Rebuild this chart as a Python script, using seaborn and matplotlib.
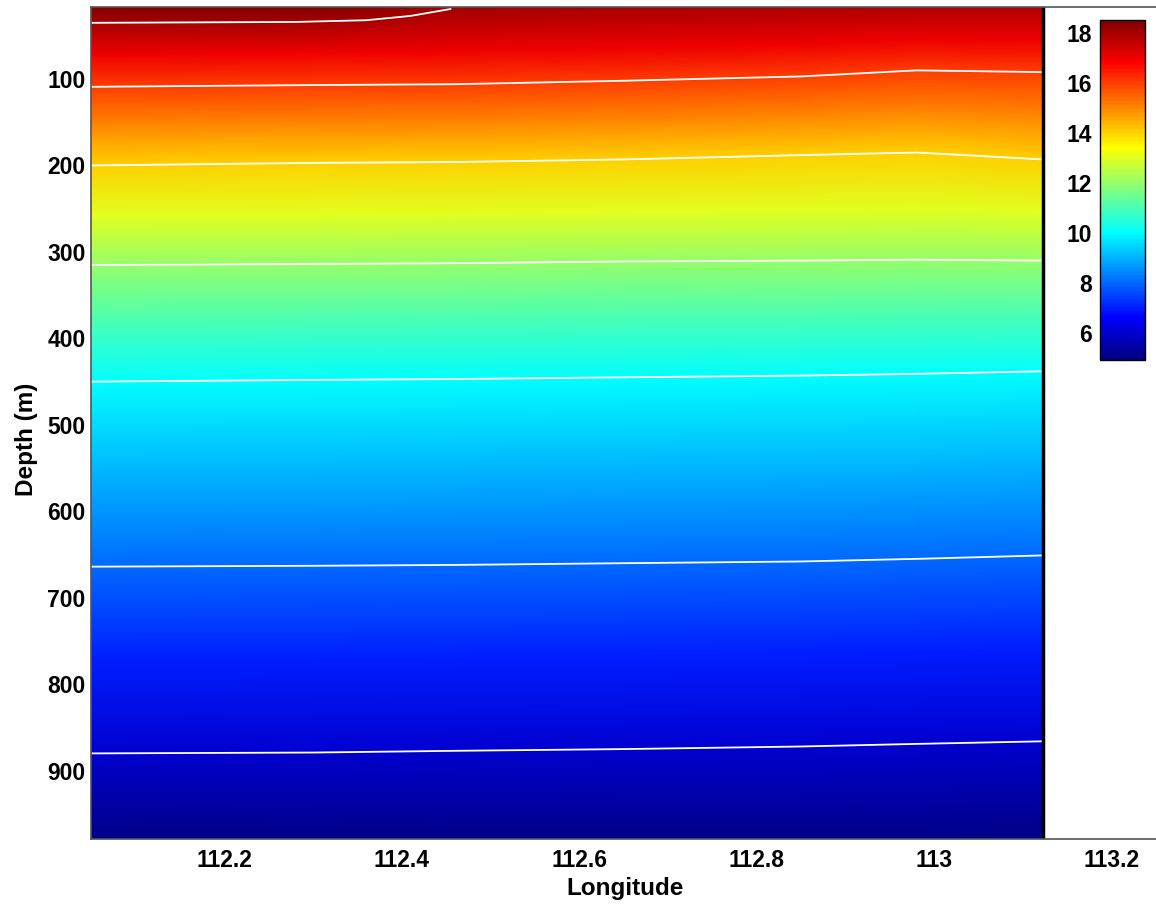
import matplotlib
matplotlib.use("Agg")
import matplotlib.pyplot as plt
from matplotlib.colors import LinearSegmentedColormap
import numpy as np
import pandas as pd
import seaborn as sns

sns.set_theme(style="white")
plt.rcParams["font.family"] = ["Liberation Sans", "DejaVu Sans"]
plt.rcParams["font.weight"] = "bold"
plt.rcParams["text.color"] = "black"
plt.rcParams["xtick.color"] = "black"
plt.rcParams["ytick.color"] = "black"
plt.rcParams["axes.labelcolor"] = "black"

# station longitudes along the section
lon = [112.05, 112.30, 112.46, 112.65, 112.85, 112.98, 113.122]

# depth (m) of each isotherm at every station
iso17 = [72, 70, 68, 65, 60, 55, 56]
iso16 = [109, 107, 106, 102, 97, 90, 92]
iso15 = [152, 150, 149, 146, 141, 136, 141]
iso14 = [200, 197, 196, 193, 188, 185, 193]
iso13 = [258, 256, 255, 253, 251, 249, 252]
iso12 = [315, 314, 313, 311, 310, 309, 310]
iso11 = [382, 380, 379, 377, 376, 374, 373]
iso10 = [450, 448, 447, 445, 443, 441, 438]
iso9 = [555, 554, 553, 551, 549, 547, 543]
iso8 = [664, 663, 662, 660, 658, 655, 651]
iso7 = [772, 771, 770, 768, 765, 762, 758]
iso6 = [880, 879, 877, 875, 872, 869, 866]

# 18 degC isotherm only reaches the western part
iso18_lon = [112.05, 112.28, 112.36, 112.41, 112.455]
iso18_depth = [35, 34, 32, 27, 19]

# surface (top) and bottom temperatures
surf_depth = 16.7
bottom_depth = 979
surf_temp = [18.49, 18.47, 18.05, 17.95, 17.9, 17.85, 17.85]
bottom_temp = [5.05, 5.05, 5.05, 5.04, 5.03, 5.02, 5.0]

levels = [17, 16, 15, 14, 13, 12, 11, 10, 9, 8, 7, 6]
iso_rows = [iso17, iso16, iso15, iso14, iso13, iso12, iso11, iso10, iso9, iso8, iso7, iso6]
line_levels = [16, 14, 12, 10, 8, 6]

# curvilinear grid: rows are surface, isotherms, bottom
n = len(lon)
Y = np.array([[surf_depth] * n] + iso_rows + [[bottom_depth] * n], dtype=float)
X = np.tile(np.array(lon), (Y.shape[0], 1))
T = np.array([surf_temp] + [[lv] * n for lv in levels] + [bottom_temp], dtype=float)

# contoured isotherms as long-form table
iso_df = pd.concat(
    [pd.DataFrame({"lon": lon, "depth": d, "level": lv})
     for lv, d in zip(levels, iso_rows) if lv in line_levels]
    + [pd.DataFrame({"lon": iso18_lon, "depth": iso18_depth, "level": 18})],
    ignore_index=True,
)

# MATLAB-style jet
cmap = LinearSegmentedColormap.from_list("mjet", [
    (0.0, (0, 0, 0.5)), (0.125, (0, 0, 1)), (0.375, (0, 1, 1)),
    (0.625, (1, 1, 0)), (0.875, (1, 0, 0)), (1.0, (0.5, 0, 0))], N=256)

fig = plt.figure(figsize=(11.56, 9.05), dpi=100)
ax = fig.add_axes([91 / 1156, 66 / 905, 1069 / 1156, 832 / 905])

mesh = ax.pcolormesh(X, Y, T, shading="gouraud", cmap=cmap, vmin=4.9, vmax=18.5)
sns.lineplot(data=iso_df, x="lon", y="depth", units="level", estimator=None,
             color="white", lw=1.3, sort=False, ax=ax, legend=False)
ax.axvline(lon[-1], color="black", lw=2.5)

ax.set_xlim(112.05, 113.254)
ax.set_ylim(979, 16.7)
ax.set_xticks([112.2, 112.4, 112.6, 112.8, 113.0, 113.2])
ax.set_xticklabels(["112.2", "112.4", "112.6", "112.8", "113", "113.2"])
ax.set_yticks(range(100, 901, 100))
ax.tick_params(length=0, labelsize=16.5)
ax.tick_params(axis="x", pad=7)
ax.tick_params(axis="y", pad=4)
ax.set_xlabel("Longitude", fontsize=17.5, fontweight="bold", labelpad=4)
ax.set_ylabel("Depth (m)", fontsize=17.5, fontweight="bold")
ax.yaxis.set_label_coords(-0.05, 0.48)
for s in ax.spines.values():
    s.set_color("#555555")
    s.set_linewidth(1.2)

cax = fig.add_axes([1100 / 1156, 1 - 360 / 905, 45 / 1156, 340 / 905])
cb = fig.colorbar(mesh, cax=cax)
cb.set_ticks([6, 8, 10, 12, 14, 16, 18])
cax.yaxis.set_ticks_position("both")
cax.yaxis.set_label_position("left")
cax.tick_params(axis="y", direction="in", length=4, color="black", labelsize=16.5,
                labelleft=True, labelright=False, pad=6)
cb.outline.set_edgecolor("black")
cb.outline.set_linewidth(1.0)

fig.savefig("out.png", dpi=100)
